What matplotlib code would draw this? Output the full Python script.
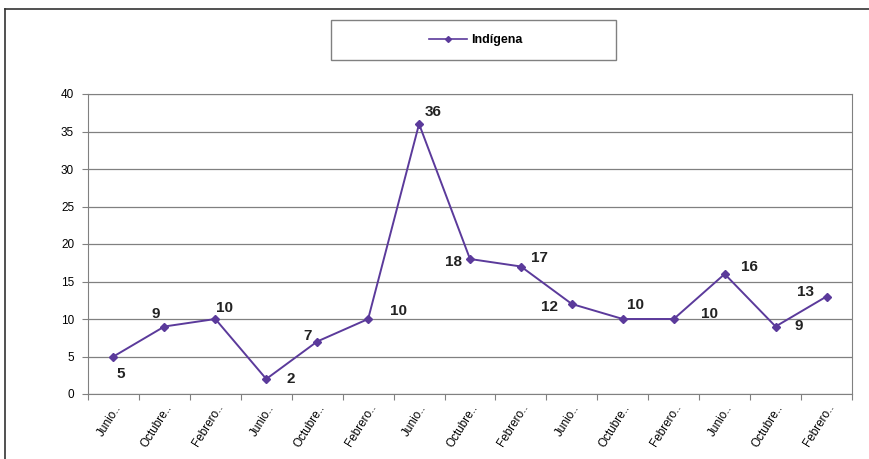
import numpy as np
import matplotlib.pyplot as plt
from matplotlib.lines import Line2D
from matplotlib.patches import Rectangle

plt.rcParams['font.family'] = ['Liberation Sans', 'DejaVu Sans']

#categories and values
categories = ['Junio..', 'Octubre..', 'Febrero..'] * 5
values = [5, 9, 10, 2, 7, 10, 36, 18, 17, 12, 10, 10, 16, 9, 13]
#label offsets (pixels) relative to each point
label_dx = [7, -9, 9, 24, -10, 30, 14, -16, 19, -22, 13, 36, 25, 23, -21]
label_dy = [-17, 13, 11, 0, 5, 8, 12, -3, 8, -3, 14, 5, 7, 0, 5]

line_color = '#5B3A9B'

fig = plt.figure(figsize=(8.69, 4.59), dpi=100)
ax = fig.add_axes([88/869, 1-394/459, (852-88)/869, (394-94)/459])

x = np.arange(len(values))
ax.plot(x, values, color=line_color, lw=1.4, marker='D', ms=4.5, label='Indígena')

for i in range(len(values)):
    ax.annotate(str(values[i]), (x[i], values[i]), xytext=(label_dx[i], label_dy[i]),
                textcoords='offset pixels', ha='center', va='center',
                fontsize=11, fontweight='bold', color='#222222')

ax.set_xlim(-0.5, len(values)-0.5)
ax.set_ylim(0, 40)
ax.set_yticks(range(0, 41, 5))
ax.set_xticks(np.arange(-0.5, len(values), 1))
ax.set_xticklabels([])
ax.set_xticks(x, minor=True)
ax.set_xticklabels(categories, minor=True, rotation=58, ha='right', rotation_mode='anchor', fontsize=8.5)
ax.tick_params(axis='x', which='minor', length=0, pad=6)
ax.tick_params(axis='x', which='major', length=4, color='#808080', direction='out')
ax.tick_params(axis='y', length=4, color='#808080', direction='out', labelsize=8.5, pad=6)

ax.grid(axis='y', color='#808080', lw=0.9)
ax.set_axisbelow(True)
for side in ['left', 'bottom', 'right', 'top']:
    ax.spines[side].set_color('#808080')

#legend box at top
fig.add_artist(Rectangle((331/869, 1-60/459), (616-331)/869, 40/459, transform=fig.transFigure,
                         fill=False, edgecolor='#808080', lw=1.0))
handle = Line2D([], [], color=line_color, lw=1.2, marker='D', ms=3)
fig.legend([handle], ['Indígena'], loc='center', bbox_to_anchor=(476/869, 1-40/459),
           frameon=False, prop={'size': 9, 'weight': 'bold'}, handlelength=3, handletextpad=0.4)

#outer frame lines
fig.add_artist(Line2D([5/869, 5/869], [0, 1-9/459], color='#333333', lw=1.2, transform=fig.transFigure))
fig.add_artist(Line2D([5/869, 1], [1-9/459, 1-9/459], color='#333333', lw=1.2, transform=fig.transFigure))

fig.savefig('out.png', dpi=100)
